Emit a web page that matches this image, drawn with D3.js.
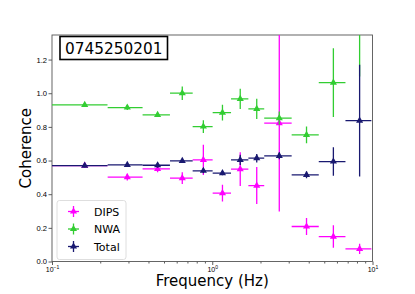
<!DOCTYPE html>
<html>
<head>
<meta charset="utf-8">
<script src="https://cdn.jsdelivr.net/npm/d3@7"></script>
<style>
  body { margin: 0; background: #fff; }
  svg { display: block; font-family: "DejaVu Sans", sans-serif; }
</style>
</head>
<body>
<div id="chart"></div>
<script>
// frequency bins (centre and half width, Hz)
const freq    = [0.160, 0.295, 0.456, 0.650, 0.880, 1.158, 1.495, 1.895, 2.62, 3.875, 5.70, 8.31];
const freqErr = [0.062, 0.0725, 0.0885, 0.105, 0.1255, 0.152, 0.185, 0.215, 0.51, 0.745, 1.08, 1.53];

const dips    = [0.570, 0.501, 0.550, 0.495, 0.604, 0.406, 0.549, 0.451, 0.822, 0.208, 0.148, 0.075];
const dipsErr = [0.010, 0.020, 0.020, 0.035, 0.090, 0.050, 0.100, 0.110, 0.525, 0.050, 0.067, 0.030];
const nwa     = [0.931, 0.915, 0.871, 1.000, 0.802, 0.885, 0.966, 0.907, 0.852, 0.752, 1.063, 1.500];
const nwaErr  = [0.010, 0.015, 0.012, 0.040, 0.038, 0.047, 0.060, 0.060, 0.040, 0.050, 0.205, 0.400];
const total    = [0.570, 0.574, 0.572, 0.598, 0.539, 0.525, 0.604, 0.614, 0.628, 0.515, 0.594, 0.837];
const totalErr = [0.010, 0.012, 0.015, 0.010, 0.015, 0.012, 0.030, 0.025, 0.020, 0.020, 0.085, 0.332];

const yTicks = [0, 0.2, 0.4, 0.6, 0.8, 1.0, 1.2];
const xMajor = [0.1, 1, 10];
const obsId = "0745250201";

const series = [
    {name: "DIPS",  values: dips,  errs: dipsErr,  color: "#ff00ff"},
    {name: "NWA",   values: nwa,   errs: nwaErr,   color: "#32cd32"},
    {name: "Total", values: total, errs: totalErr, color: "#191970"}
];

var W = 415, H = 294;
var margin = {top: 35, right: 42.5, bottom: 32.5, left: 52};
var width = W - margin.left - margin.right;
var height = H - margin.top - margin.bottom;

var svg = d3.select("#chart").append("svg")
    .attr("width", W).attr("height", H);

var x = d3.scaleLog().domain([0.1, 10]).range([0, width]);
var y = d3.scaleLinear().domain([0, 1.346]).range([height, 0]);

var g = svg.append("g")
    .attr("transform", "translate(" + margin.left + "," + margin.top + ")");

g.append("clipPath").attr("id", "plotclip")
    .append("rect").attr("width", width).attr("height", height);

// x axis: minor ticks first, then majors with 10^n labels
var minor = x.ticks().filter(d => xMajor.indexOf(d) < 0);
var xMinorAxis = d3.axisBottom(x).tickValues(minor).tickSize(2).tickFormat("");
g.append("g").attr("class", "xminor")
    .attr("transform", "translate(0," + height + ")")
    .call(xMinorAxis);

var xAxis = d3.axisBottom(x).tickValues(xMajor).tickSize(3.5).tickPadding(2);
var xg = g.append("g").attr("class", "xaxis")
    .attr("transform", "translate(0," + height + ")")
    .call(xAxis);
xg.selectAll("text").each(function(d) {
    var t = d3.select(this).text(null).attr("font-size", 7).attr("fill", "#000");
    t.append("tspan").text("10");
    t.append("tspan").attr("font-size", 5).attr("dy", -3.2).text(Math.round(Math.log10(d)).toString().replace("-", "\u2212"));
});

var yAxis = d3.axisLeft(y).tickValues(yTicks).tickSize(3.5).tickPadding(1.5)
    .tickFormat(d3.format(".1f"));
g.append("g").attr("class", "yaxis").call(yAxis)
    .selectAll("text").attr("font-size", 7.6).attr("fill", "#000");

g.selectAll(".domain").remove();
g.selectAll(".tick line").attr("stroke", "#333").attr("stroke-width", 0.8);

// frame
g.append("rect")
    .attr("width", width).attr("height", height)
    .attr("fill", "none").attr("stroke", "#555").attr("stroke-width", 0.9);

// error bars and markers
var marks = g.append("g").attr("clip-path", "url(#plotclip)");
var tri = d3.symbol().type(d3.symbolTriangle).size(22);

series.forEach(s => {
    var sg = marks.append("g");
    var pts = freq.map((f, i) => ({f: f, fe: freqErr[i], v: s.values[i], e: s.errs[i]}));
    sg.selectAll("line.h").data(pts).enter().append("line")
        .attr("x1", d => x(d.f - d.fe)).attr("x2", d => x(d.f + d.fe))
        .attr("y1", d => y(d.v)).attr("y2", d => y(d.v))
        .attr("stroke", s.color).attr("stroke-width", 1.3);
    sg.selectAll("line.v").data(pts).enter().append("line")
        .attr("x1", d => x(d.f)).attr("x2", d => x(d.f))
        .attr("y1", d => y(d.v - d.e)).attr("y2", d => y(d.v + d.e))
        .attr("stroke", s.color).attr("stroke-width", 1.3);
    sg.selectAll("path").data(pts).enter().append("path")
        .attr("d", tri)
        .attr("transform", d => "translate(" + x(d.f) + "," + y(d.v) + ")")
        .attr("fill", s.color);
});

// observation id box
var idg = g.append("g").attr("transform", "translate(8,1.5)");
idg.append("rect").attr("width", 107.5).attr("height", 23)
    .attr("fill", "#fff").attr("stroke", "#000").attr("stroke-width", 1.6);
idg.append("text").attr("x", 53.75).attr("y", 17.5)
    .attr("text-anchor", "middle").attr("font-size", 15.3).text(obsId);

// legend
var lg = g.append("g").attr("transform", "translate(5," + (height - 61) + ")");
lg.append("rect").attr("width", 69).attr("height", 59).attr("rx", 2.5)
    .attr("fill", "#fff").attr("fill-opacity", 0.8)
    .attr("stroke", "#d6d6d6").attr("stroke-width", 0.8);
series.forEach((s, i) => {
    var row = lg.append("g").attr("transform", "translate(16.5," + (11 + i * 17.5) + ")");
    row.append("line").attr("x1", -5.5).attr("x2", 5.5)
        .attr("stroke", s.color).attr("stroke-width", 1.3);
    row.append("line").attr("y1", -5.5).attr("y2", 5.5)
        .attr("stroke", s.color).attr("stroke-width", 1.3);
    row.append("path").attr("d", tri).attr("fill", s.color);
    row.append("text").attr("x", 20.5).attr("y", 4)
        .attr("font-size", 11).text(s.name);
});

// axis titles
svg.append("text")
    .attr("x", margin.left + width / 2).attr("y", 286)
    .attr("text-anchor", "middle").attr("font-size", 15)
    .text("Frequency (Hz)");
svg.append("text")
    .attr("transform", "translate(30.5," + (margin.top + height / 2) + ") rotate(-90)")
    .attr("text-anchor", "middle").attr("font-size", 15)
    .text("Coherence");
</script>
</body>
</html>
